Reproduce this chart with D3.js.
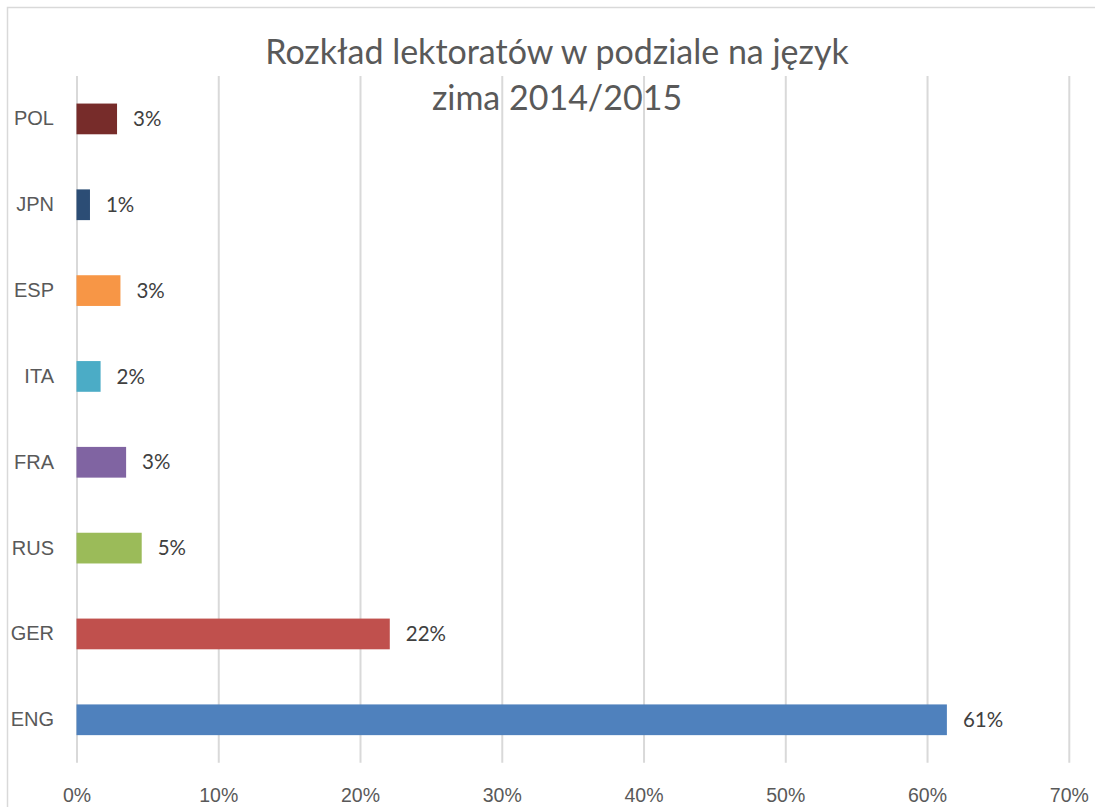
<!DOCTYPE html>
<meta charset="utf-8">
<style>
  body { margin: 0; background: #fff; }
  svg { display: block; font-family: Lato, "Open Sans", sans-serif; }
  .grid line { stroke: #d9d9d9; stroke-width: 2px; }
  .xaxis text { fill: #595959; font-size: 19.5px; }
  .cat text { fill: #595959; font-size: 20px; }
  .lbl { fill: #404040; font-size: 20.5px; }
  .title { fill: #595959; font-size: 34px; }
</style>
<svg width="1095" height="807"></svg>
<script src="https://d3js.org/d3.v7.min.js"></script>
<script>

// bottom-to-top order, as in the source sheet
var categories = ["ENG", "GER", "RUS", "FRA", "ITA", "ESP", "JPN", "POL"];
var values = [0.614, 0.221, 0.046, 0.035, 0.017, 0.031, 0.0095, 0.0286];
var labels = ["61%", "22%", "5%", "3%", "2%", "3%", "1%", "3%"];
var colors = ["#4f81bd", "#c0504d", "#9bbb59", "#8064a2", "#4bacc6", "#f79646", "#2c4d75", "#772c2a"];
var ticks = [0, 0.1, 0.2, 0.3, 0.4, 0.5, 0.6, 0.7];
var titleLines = ["Rozkład lektoratów w podziale na język", "zima 2014/2015"];

var svg = d3.select("svg");

var plotTop = 76, plotBottom = 762.7;

var x = d3.scaleLinear()
  .domain([0, 0.7])
  .range([76.5, 1068.8]);

var y = d3.scaleBand()
  .domain(categories.slice().reverse())
  .range([plotTop, plotBottom])
  .paddingInner(0.642)
  .paddingOuter(0.321);

// chart frame
svg.append("rect")
  .attr("x", 7.5).attr("y", 7.5)
  .attr("width", 1200).attr("height", 1000)
  .attr("fill", "none")
  .attr("stroke", "#d9d9d9")
  .attr("stroke-width", 1.5);

// gridlines
svg.append("g")
  .attr("class", "grid")
  .attr("transform", "translate(0," + plotBottom + ")")
  .call(d3.axisBottom(x).tickValues(ticks).tickSize(-(plotBottom - plotTop)).tickFormat(""))
  .call(function(g) { g.select(".domain").remove(); });

// x axis labels
svg.append("g")
  .attr("class", "xaxis")
  .attr("transform", "translate(0," + plotBottom + ")")
  .call(d3.axisBottom(x).tickValues(ticks).tickSize(0).tickPadding(25).tickFormat(d3.format(".0%")))
  .call(function(g) {
    g.select(".domain").remove();
    g.selectAll("text").attr("font-family", null).attr("font-size", null);
  });

// category labels
svg.append("g")
  .attr("class", "cat")
  .attr("transform", "translate(54,0)")
  .call(d3.axisLeft(y).tickSize(0).tickPadding(0))
  .call(function(g) {
    g.select(".domain").remove();
    g.selectAll("text").attr("font-family", null).attr("font-size", null);
  });

var data = categories.map(function(c, i) {
  return { cat: c, value: values[i], label: labels[i], color: colors[i] };
});

svg.append("g")
  .selectAll("rect")
  .data(data)
  .enter().append("rect")
  .attr("x", x(0))
  .attr("y", function(d) { return y(d.cat); })
  .attr("width", function(d) { return x(d.value) - x(0); })
  .attr("height", y.bandwidth())
  .attr("fill", function(d) { return d.color; });

svg.append("g")
  .selectAll("text")
  .data(data)
  .enter().append("text")
  .attr("class", "lbl")
  .attr("x", function(d) { return x(d.value) + 16; })
  .attr("y", function(d) { return y(d.cat) + y.bandwidth() / 2; })
  .attr("dy", "0.35em")
  .text(function(d) { return d.label; });

svg.append("text")
  .attr("class", "title")
  .attr("text-anchor", "middle")
  .selectAll("tspan")
  .data(titleLines)
  .enter().append("tspan")
  .attr("x", 557)
  .attr("y", function(d, i) { return 64 + i * 46; })
  .text(function(d) { return d; });

</script>
